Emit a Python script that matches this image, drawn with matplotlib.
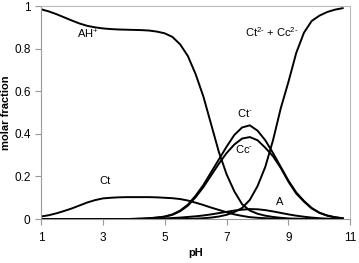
import matplotlib.pyplot as plt
from matplotlib.ticker import FuncFormatter

plt.rcParams['font.family'] = ['Liberation Sans', 'DejaVu Sans']
plt.rcParams['mathtext.fontset'] = 'custom'
plt.rcParams['mathtext.rm'] = 'Liberation Sans'
plt.rcParams['mathtext.it'] = 'Liberation Sans'

ph = [1.0, 1.25, 1.5, 1.75, 2.0, 2.25, 2.5, 2.75, 3.0, 3.25, 3.5, 3.75, 4.0, 4.25,
      4.5, 4.75, 5.0, 5.25, 5.5, 5.75, 6.0, 6.25, 6.5, 6.75, 7.0, 7.25, 7.5, 7.75,
      8.0, 8.25, 8.5, 8.75, 9.0, 9.25, 9.5, 9.75, 10.0, 10.25, 10.5, 10.75]

ah = [0.985, 0.975, 0.962, 0.947, 0.932, 0.918, 0.907, 0.9, 0.895, 0.892, 0.89, 0.889,
      0.888, 0.887, 0.885, 0.88, 0.872, 0.855, 0.82, 0.765, 0.68, 0.575, 0.445, 0.315,
      0.21, 0.13, 0.07, 0.04, 0.025, 0.016, 0.01, 0.006, 0.003, 0.002, 0.001, 0, 0, 0, 0, 0]

ct = [0.012, 0.018, 0.027, 0.038, 0.05, 0.064, 0.078, 0.089, 0.097, 0.1, 0.102, 0.103,
      0.103, 0.103, 0.103, 0.102, 0.1, 0.098, 0.094, 0.087, 0.077, 0.066, 0.054, 0.043,
      0.032, 0.022, 0.015, 0.009, 0.006, 0.004, 0.002, 0.001, 0, 0, 0, 0, 0, 0, 0, 0]

ct_minus = [0, 0, 0, 0, 0, 0, 0, 0, 0, 0, 0, 0, 0.001, 0.002, 0.004, 0.007, 0.012, 0.022,
            0.04, 0.068, 0.11, 0.16, 0.22, 0.28, 0.34, 0.395, 0.43, 0.44, 0.415, 0.37,
            0.31, 0.245, 0.18, 0.125, 0.085, 0.052, 0.03, 0.017, 0.009, 0.004]

cc_minus = [0, 0, 0, 0, 0, 0, 0, 0, 0, 0, 0, 0, 0.001, 0.002, 0.004, 0.007, 0.011, 0.02,
            0.037, 0.063, 0.103, 0.15, 0.205, 0.26, 0.31, 0.35, 0.378, 0.385, 0.37, 0.335,
            0.295, 0.24, 0.175, 0.12, 0.082, 0.05, 0.029, 0.016, 0.008, 0.004]

a_sp = [0, 0, 0, 0, 0, 0, 0, 0, 0, 0, 0, 0, 0, 0, 0.001, 0.002, 0.003, 0.005, 0.007, 0.01,
        0.013, 0.017, 0.022, 0.028, 0.034, 0.04, 0.044, 0.047, 0.046, 0.042, 0.036, 0.029,
        0.022, 0.016, 0.011, 0.007, 0.004, 0.002, 0.001, 0.001]

ct2 = [0, 0, 0, 0, 0, 0, 0, 0, 0, 0, 0, 0, 0, 0, 0, 0, 0, 0, 0, 0.001, 0.002, 0.004,
       0.007, 0.012, 0.02, 0.033, 0.052, 0.09, 0.155, 0.245, 0.37, 0.52, 0.645, 0.78,
       0.875, 0.93, 0.955, 0.972, 0.983, 0.99]

fig = plt.figure(figsize=(3.59, 2.63), dpi=100)
ax = fig.add_axes([0.114, 0.167, 0.862, 0.81])

for ys in [ah, ct, ct_minus, cc_minus, a_sp, ct2]:
    ax.plot(ph, ys, color='black', lw=1.4)

fs = 8
hy = '\u2010'
ax.text(2.5, 0.865, 'AH$^{+}$', fontsize=fs, ha='center', va='center')
ax.text(3.06, 0.18, 'Ct', fontsize=fs, ha='center', va='center')
ax.text(7.57, 0.5, 'Ct$^{%s}$' % hy, fontsize=fs, ha='center', va='center')
ax.text(7.55, 0.33, 'Cc$^{%s}$' % hy, fontsize=fs, ha='center', va='center')
ax.text(8.7, 0.08, 'A', fontsize=fs, ha='center', va='center')
ax.text(8.45, 0.88, 'Ct$^{2%s}$ + Cc$^{2%s}$' % (hy, hy), fontsize=fs, ha='center', va='center')

ax.set_xlim(1, 11)
ax.set_ylim(0, 1)
ax.set_xticks([1, 3, 5, 7, 9, 11])
ax.set_yticks([0, 0.2, 0.4, 0.6, 0.8, 1])
ax.yaxis.set_major_formatter(FuncFormatter(lambda v, p: '%g' % v))
ax.tick_params(labelsize=8.5, color='#999999', length=4, width=0.8)
ax.tick_params(axis='x', pad=5)
for s in ['left', 'bottom']:
    ax.spines[s].set_color('#999999')
for s in ['top', 'right']:
    ax.spines[s].set_color('#bbbbbb')
ax.set_xlabel('pH', fontsize=8, fontweight='bold', labelpad=3)
ax.set_ylabel('molar fraction', fontsize=8, fontweight='bold', labelpad=2)

fig.savefig('out.png', dpi=100)
